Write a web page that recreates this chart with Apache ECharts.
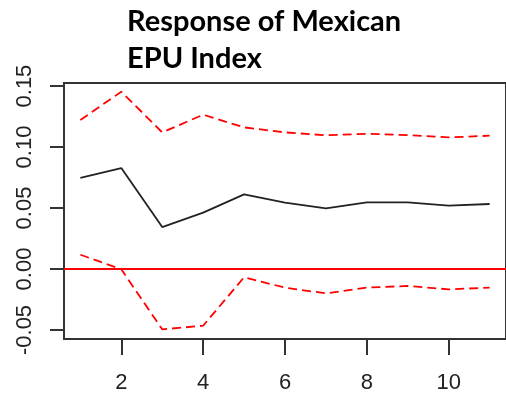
<!DOCTYPE html>
<html>
<head>
<meta charset="utf-8">
<script src="https://cdn.jsdelivr.net/npm/echarts@6/dist/echarts.min.js"></script>
<style>
html,body{margin:0;padding:0;background:#fff;}
#chart{width:506px;height:402px;}
</style>
</head>
<body>
<div id="chart"></div>
<script>
const titleLines = ['Response of Mexican', 'EPU Index'];
const steps = [1, 2, 3, 4, 5, 6, 7, 8, 9, 10, 11];
const response = [0.0748, 0.0828, 0.0344, 0.0462, 0.0612, 0.0544, 0.0497, 0.0547, 0.0547, 0.0519, 0.0533];
const upperBand = [0.1221, 0.1454, 0.1120, 0.1265, 0.1161, 0.1120, 0.1096, 0.1109, 0.1098, 0.1079, 0.1093];
const lowerBand = [0.0117, -0.0003, -0.0495, -0.0465, -0.0068, -0.0153, -0.0200, -0.0153, -0.0139, -0.0167, -0.0153];
const xTicks = [2, 4, 6, 8, 10];
const yTicks = [-0.05, 0.00, 0.05, 0.10, 0.15];
const zeroLine = [0];

const pair = (arr) => arr.map((v, i) => [steps[i], v]);
const chart = echarts.init(document.getElementById('chart'), null, {renderer: 'canvas'});
const axisFont = {fontFamily: 'Liberation Sans, Arial, sans-serif', fontSize: 22, color: '#222'};

chart.setOption({
  animation: false,
  backgroundColor: '#fff',
  title: {
    text: titleLines.join('\n'),
    left: 122, top: -2,
    textStyle: {fontFamily: 'Lato, sans-serif', fontWeight: 'bold', fontSize: 29, lineHeight: 37, color: '#000'}
  },
  grid: {left: 64, top: 83, width: 443, bottom: 63, show: true, borderColor: '#333', borderWidth: 2, backgroundColor: 'transparent'},
  xAxis: {
    type: 'value', min: 0.6, max: 11.4,
    axisLine: {show: true, onZero: false, lineStyle: {color: '#333', width: 2}},
    axisTick: {show: true, customValues: xTicks, length: 16, lineStyle: {color: '#333', width: 2}},
    axisLabel: Object.assign({customValues: xTicks, margin: 33, formatter: v => String(v)}, axisFont),
    splitLine: {show: false}
  },
  yAxis: {
    type: 'value', min: -0.0574, max: 0.1525,
    axisLine: {show: true, onZero: false, lineStyle: {color: '#333', width: 2}},
    axisTick: {show: true, customValues: yTicks, length: 14, lineStyle: {color: '#333', width: 2}},
    axisLabel: Object.assign({customValues: yTicks, rotate: 90, margin: 28, formatter: v => v.toFixed(2)}, axisFont),
    splitLine: {show: false}
  },
  series: [
    {type: 'line', data: pair(response), symbol: 'none', lineStyle: {color: '#222', width: 1.8}, z: 3},
    {type: 'line', data: pair(upperBand), symbol: 'none', lineStyle: {color: '#ff0000', width: 1.8, type: [9, 5]}, z: 3},
    {type: 'line', data: pair(lowerBand), symbol: 'none', lineStyle: {color: '#ff0000', width: 1.8, type: [9, 5]}, z: 3},
    {type: 'line', data: [], symbol: 'none',
      markLine: {silent: true, symbol: 'none', label: {show: false},
        lineStyle: {color: '#ff0000', width: 2, type: 'solid'},
        data: zeroLine.map(v => ({yAxis: v}))}}
  ]
});
</script>
</body>
</html>
